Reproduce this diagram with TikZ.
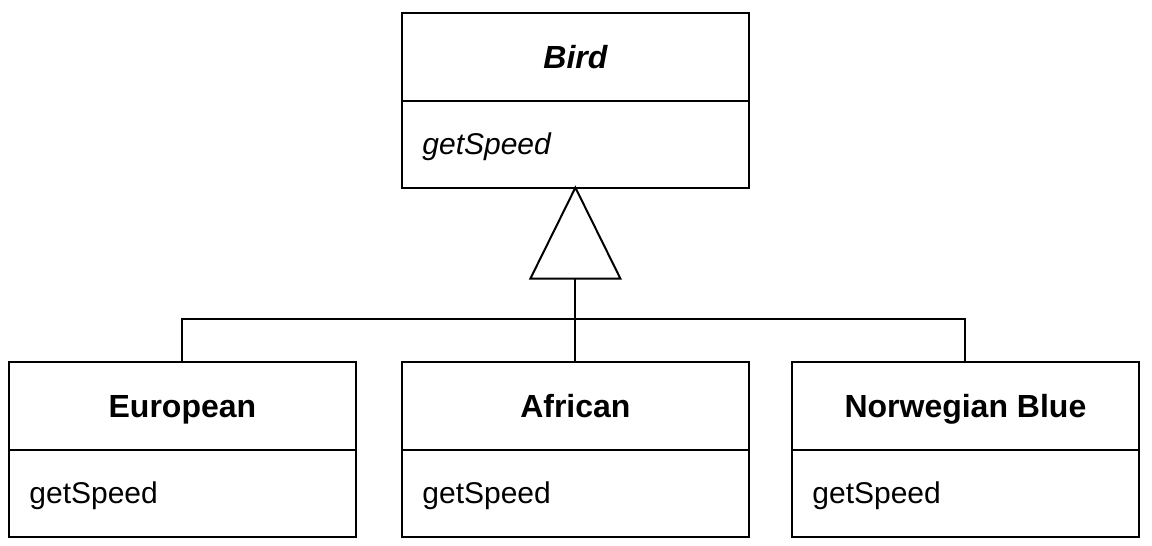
\documentclass[tikz,border=0pt]{standalone}
\usepackage{fontspec}
\setmainfont{Liberation Sans}
\tikzset{
  classname/.style={minimum width=173pt,minimum height=43.5pt,inner sep=0pt,
    text height=14pt,text depth=2pt,font=\fontsize{16}{19}\selectfont\bfseries},
  classop/.style={text width=153pt,minimum height=43pt,inner xsep=10pt,inner ysep=0pt,
    text height=13pt,text depth=3pt,align=left,font=\fontsize{15}{18}\selectfont},
  frame/.style={line width=1.1pt,line join=miter},
  divider/.style={line width=0.8pt},
  link/.style={line width=1pt}
}
\begin{document}
\begin{tikzpicture}[x=0.5pt,y=-0.5pt]
  \useasboundingbox (0,0) rectangle (1152,546);

  % superclass
  \node[classname,anchor=north west] (bird) at (402,13) {\itshape Bird};
  \node[classop,anchor=north] (birdop) at (bird.south) {\itshape getSpeed};
  \draw[frame] (bird.north west) rectangle (birdop.south east);
  \draw[divider] (birdop.north west) -- (birdop.north east);

  % subclasses
  \node[classname,anchor=north west] (european) at (9,362) {European};
  \node[classop,anchor=north] (europeanop) at (european.south) {getSpeed};
  \draw[frame] (european.north west) rectangle (europeanop.south east);
  \draw[divider] (europeanop.north west) -- (europeanop.north east);

  \node[classname,anchor=north west] (african) at (402,362) {African};
  \node[classop,anchor=north] (africanop) at (african.south) {getSpeed};
  \draw[frame] (african.north west) rectangle (africanop.south east);
  \draw[divider] (africanop.north west) -- (africanop.north east);

  \node[classname,anchor=north west] (norwegian) at (792,362) {Norwegian Blue};
  \node[classop,anchor=north] (norwegianop) at (norwegian.south) {getSpeed};
  \draw[frame] (norwegian.north west) rectangle (norwegianop.south east);
  \draw[divider] (norwegianop.north west) -- (norwegianop.north east);

  % generalisation
  \draw[link,line join=miter] (birdop.south) -- ++(-45,91)
    -- ++(90,0) -- cycle;
  \path (birdop.south) ++(0,91) coordinate (tri);
  \coordinate (bar) at (575,319);
  \draw[link] (tri) -- (african.north);
  \draw[link] (european.north) |- (bar) -| (norwegian.north);
\end{tikzpicture}
\end{document}
